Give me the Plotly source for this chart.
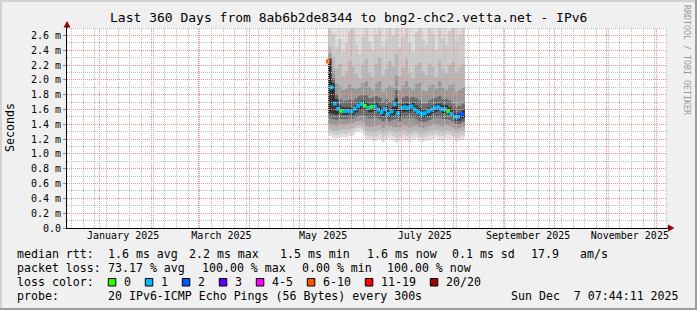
import math
import plotly.graph_objects as go
import pandas as pd

# ------------------------------------------------------------------ data ----
title_text = "Last 360 Days from 8ab6b2de8344 to bng2-chc2.vetta.net - IPv6"
x_start = "2024-12-12 07:44:11"
x_end = "2025-12-07 07:44:11"

# 2-day samples (start of each step) where data exists
sample_dates = list(pd.date_range("2025-05-18", periods=41, freq="2D").strftime("%Y-%m-%d"))

# median rtt (ms)
median_ms = [2.25, 1.90, 1.68, 1.61, 1.58, 1.58, 1.58, 1.575, 1.61, 1.65,
             1.675, 1.65, 1.62, 1.635, 1.64, 1.60, 1.565, 1.605, 1.54, 1.575,
             1.67, 1.55, 1.62, 1.63, 1.62, 1.64, 1.60, 1.565, 1.54, 1.55,
             1.575, 1.60, 1.62, 1.63, 1.605, 1.605, 1.58, 1.54, 1.50, 1.50, 1.54]
# lost pings (of 20) per sample
loss_count = [7, 1, 1, 1, 0, 1, 1, 1, 1, 1,
              1, 0, 1, 0, 1, 1, 1, 1, 1, 1,
              1, 1, 1, 1, 1, 1, 1, 1, 1, 1,
              1, 1, 1, 1, 1, 1, 0, 1, 1, 1, 2]

# smoke bands (ms), outermost -> innermost (values at 2.70 are clipped at the top)
hi1 = [2.70, 2.70, 2.70, 2.70, 2.70, 2.70, 2.70, 2.70, 2.70, 2.70,
       2.70, 2.70, 2.70, 2.70, 2.70, 2.70, 2.70, 2.70, 2.70, 2.70,
       2.70, 2.70, 2.70, 2.70, 2.70, 2.70, 2.70, 2.70, 2.70, 2.70,
       2.70, 2.70, 2.70, 2.70, 2.70, 2.70, 2.70, 2.70, 2.70, 2.70, 2.70]
lo1 = [1.24, 1.22, 1.21, 1.22, 1.23, 1.22, 1.24, 1.25, 1.30, 1.31,
       1.28, 1.20, 1.19, 1.17, 1.18, 1.20, 1.16, 1.19, 1.21, 1.18,
       1.15, 1.17, 1.20, 1.18, 1.16, 1.19, 1.21, 1.17, 1.16, 1.18,
       1.19, 1.20, 1.22, 1.19, 1.18, 1.21, 1.20, 1.19, 1.17, 1.18, 1.20]
hi2 = [2.70, 2.62, 2.45, 2.55, 2.38, 2.50, 2.66, 2.70, 2.48, 2.35,
       2.58, 2.70, 2.52, 2.40, 2.62, 2.70, 2.46, 2.55, 2.70, 2.60,
       2.70, 2.44, 2.58, 2.70, 2.50, 2.38, 2.64, 2.70, 2.55, 2.47,
       2.70, 2.62, 2.40, 2.70, 2.56, 2.48, 2.66, 2.70, 2.52, 2.60, 2.70]
lo2 = [1.29, 1.27, 1.26, 1.27, 1.28, 1.27, 1.29, 1.30, 1.34, 1.35,
       1.33, 1.25, 1.24, 1.23, 1.24, 1.26, 1.22, 1.25, 1.27, 1.24,
       1.22, 1.23, 1.26, 1.24, 1.22, 1.25, 1.27, 1.23, 1.22, 1.24,
       1.25, 1.26, 1.28, 1.25, 1.24, 1.27, 1.26, 1.24, 1.22, 1.23, 1.25]
hi3 = [2.45, 2.30, 2.15, 2.22, 2.05, 2.12, 2.25, 2.18, 2.08, 2.02,
       2.20, 2.28, 2.10, 2.04, 2.22, 2.30, 2.06, 2.14, 2.26, 2.18,
       2.35, 2.05, 2.16, 2.28, 2.10, 2.02, 2.20, 2.24, 2.12, 2.06,
       2.22, 2.18, 2.04, 2.26, 2.14, 2.08, 2.20, 2.24, 2.10, 2.16, 2.22]
lo3 = [1.34, 1.32, 1.31, 1.32, 1.33, 1.33, 1.34, 1.35, 1.38, 1.39,
       1.37, 1.31, 1.30, 1.29, 1.30, 1.32, 1.28, 1.31, 1.32, 1.30,
       1.28, 1.29, 1.32, 1.30, 1.28, 1.31, 1.32, 1.29, 1.28, 1.30,
       1.31, 1.32, 1.33, 1.31, 1.30, 1.32, 1.31, 1.30, 1.28, 1.29, 1.31]
hi4 = [2.35, 2.12, 1.95, 1.92, 1.86, 1.88, 1.94, 1.90, 1.88, 1.90,
       1.96, 1.98, 1.90, 1.86, 1.95, 1.98, 1.84, 1.90, 1.92, 1.90,
       2.05, 1.86, 1.92, 1.98, 1.90, 1.86, 1.94, 1.96, 1.86, 1.84,
       1.92, 1.94, 1.88, 1.98, 1.90, 1.86, 1.92, 1.94, 1.84, 1.86, 1.90]
lo4 = [1.40, 1.39, 1.38, 1.39, 1.40, 1.40, 1.41, 1.42, 1.44, 1.45,
       1.43, 1.38, 1.37, 1.37, 1.38, 1.39, 1.35, 1.38, 1.38, 1.37,
       1.36, 1.36, 1.39, 1.38, 1.36, 1.38, 1.39, 1.36, 1.35, 1.37,
       1.38, 1.39, 1.40, 1.38, 1.37, 1.39, 1.38, 1.36, 1.34, 1.35, 1.37]
hi5 = [2.30, 2.02, 1.80, 1.74, 1.71, 1.72, 1.73, 1.72, 1.75, 1.78,
       1.80, 1.79, 1.75, 1.76, 1.78, 1.76, 1.70, 1.74, 1.70, 1.72,
       1.86, 1.69, 1.76, 1.78, 1.76, 1.77, 1.75, 1.72, 1.68, 1.68,
       1.72, 1.75, 1.76, 1.78, 1.74, 1.74, 1.72, 1.68, 1.64, 1.65, 1.68]
lo5 = [1.48, 1.47, 1.46, 1.47, 1.47, 1.47, 1.48, 1.48, 1.50, 1.52,
       1.52, 1.49, 1.48, 1.48, 1.49, 1.47, 1.44, 1.47, 1.44, 1.46,
       1.47, 1.44, 1.48, 1.49, 1.48, 1.49, 1.47, 1.44, 1.43, 1.44,
       1.46, 1.48, 1.49, 1.49, 1.47, 1.47, 1.46, 1.43, 1.40, 1.40, 1.43]
hi6 = [2.28, 1.96, 1.74, 1.66, 1.63, 1.63, 1.63, 1.62, 1.66, 1.70,
       1.72, 1.70, 1.67, 1.68, 1.69, 1.65, 1.62, 1.65, 1.60, 1.63,
       1.75, 1.61, 1.67, 1.68, 1.67, 1.69, 1.65, 1.62, 1.59, 1.60,
       1.63, 1.65, 1.67, 1.68, 1.66, 1.66, 1.63, 1.59, 1.55, 1.55, 1.59]
lo6 = [1.55, 1.54, 1.53, 1.54, 1.53, 1.53, 1.54, 1.53, 1.56, 1.59,
       1.61, 1.59, 1.56, 1.57, 1.58, 1.55, 1.51, 1.55, 1.49, 1.52,
       1.55, 1.50, 1.56, 1.57, 1.56, 1.58, 1.55, 1.51, 1.49, 1.50,
       1.52, 1.55, 1.57, 1.58, 1.55, 1.55, 1.53, 1.49, 1.45, 1.45, 1.48]
smoke_colors = ["#dddddd", "#cacaca", "#b5b5b5", "#979797", "#6a6a6a", "#333333"]

# axes
y_max = 2.7
ytick_vals = [0.0, 0.2, 0.4, 0.6, 0.8, 1.0, 1.2, 1.4, 1.6, 1.8, 2.0, 2.2, 2.4, 2.6]
ytick_text = ["0.0", "0.2 m", "0.4 m", "0.6 m", "0.8 m", "1.0 m", "1.2 m", "1.4 m",
              "1.6 m", "1.8 m", "2.0 m", "2.2 m", "2.4 m", "2.6 m"]
xlabel_dates = ["2025-01-15", "2025-03-15", "2025-05-15", "2025-07-15", "2025-09-15", "2025-11-15"]
xlabel_text = ["January 2025", "March 2025", "May 2025", "July 2025", "September 2025", "November 2025"]

# legend
loss_labels = ["0", "1", "2", "3", "4-5", "6-10", "11-19", "20/20"]
loss_colors = ["#26ff00", "#00b8ff", "#0059ff", "#5e00ff", "#ff00ff", "#ff5500", "#ff0000", "#a00000"]
rtt_row = [("median rtt:", 16), ("1.6 ms avg", 107.3), ("2.2 ms max", 188.3), ("1.5 ms min", 279.3),
           ("1.6 ms now", 365.7), ("0.1 ms sd", 451), ("17.9", 530), ("am/s", 579)]
loss_row = [("packet loss:", 16), ("73.17 % avg", 107.3), ("100.00 % max", 201),
            ("0.00 % min", 300.7), ("100.00 % now", 386)]
probe_text = "20 IPv6-ICMP Echo Pings (56 Bytes) every 300s"
date_text = "Sun Dec  7 07:44:11 2025"

# ---------------------------------------------------------------- layout ----
W, H = 697, 310
L, R, T, B = 67, 667, 28, 228
FONT = "DejaVu Sans Mono"
DAY_MS = 86400000


def px(x):
    return (x - L) / (R - L)


def py(y):
    return (B - y) / (B - T)


def loss_class(c):
    if c <= 3:
        return c
    if c <= 5:
        return 4
    if c <= 10:
        return 5
    if c <= 19:
        return 6
    return 7


fig = go.Figure()

bands = [(lo1, hi1), (lo2, hi2), (lo3, hi3), (lo4, hi4), (lo5, hi5), (lo6, hi6)]
for (lo, hi), col in zip(bands, smoke_colors):
    fig.add_trace(go.Bar(
        x=sample_dates, base=lo, y=[h - l for h, l in zip(hi, lo)],
        width=2 * DAY_MS, offset=0,
        marker=dict(color=col, line=dict(width=0)), hoverinfo="skip"))

fig.add_trace(go.Scatter(
    x=sample_dates, y=median_ms, mode="lines",
    xperiod=2 * DAY_MS, xperiodalignment="middle",
    line=dict(color="#202020", width=1), hoverinfo="skip"))
fig.add_trace(go.Scatter(
    x=sample_dates, y=median_ms, mode="markers",
    xperiod=2 * DAY_MS, xperiodalignment="middle",
    marker=dict(symbol="square", size=4,
                color=[loss_colors[loss_class(c)] for c in loss_count],
                line=dict(width=0)), hoverinfo="skip"))

fig.update_layout(
    width=W, height=H,
    margin=dict(l=L, r=W - R, t=T, b=H - B, pad=0),
    paper_bgcolor="#f0f0f0", plot_bgcolor="#ffffff",
    showlegend=False, barmode="overlay",
    font=dict(family=FONT, size=10, color="#000000"),
    xaxis=dict(
        type="date", range=[x_start, x_end],
        showticklabels=False, ticks="", showgrid=False,
        showline=True, linecolor="#000000", linewidth=1, zeroline=False,
        fixedrange=True),
    xaxis2=dict(
        type="date", range=[x_start, x_end], overlaying="x", anchor="y", side="bottom",
        tickmode="array", tickvals=xlabel_dates, ticktext=xlabel_text,
        showgrid=False, showline=False, ticks="", zeroline=False,
        tickfont=dict(family=FONT, size=10, color="#000000")),
    yaxis=dict(
        range=[0, y_max], tickmode="array", tickvals=ytick_vals, ticktext=ytick_text,
        showgrid=False,
        showline=True, linecolor="#000000", linewidth=1, zeroline=False,
        ticks="outside", ticklen=3, tickcolor="#888888",
        tickfont=dict(family=FONT, size=10, color="#000000"),
        fixedrange=True),
)
# dummy trace to activate xaxis2
fig.add_trace(go.Scatter(x=[x_start], y=[None], xaxis="x2", yaxis="y",
                         mode="markers", hoverinfo="skip"))

ann = []
shapes = []

# ---- dotted grid drawn on top of the smoke (as rrdtool does) ----
grid_major = "#f78a8a"
grid_minor = "#bdbdbd"
t0 = pd.Timestamp(x_start)
span = (pd.Timestamp(x_end) - t0).total_seconds()


def xpix(ts):
    return L + (pd.Timestamp(ts) - t0).total_seconds() / span * (R - L)


month_cols = set()
for ts in pd.date_range("2025-01-01", x_end, freq="MS"):
    c = math.floor(xpix(ts)) + 0.5
    month_cols.add(c)
    shapes.append(dict(type="line", xref="paper", yref="paper", x0=px(c), x1=px(c), y0=0, y1=1,
                       line=dict(color=grid_major, width=1, dash="1px,1px"), layer="above"))
for ts in pd.date_range("2024-12-15", x_end, freq="7D"):
    c = math.floor(xpix(ts)) + 0.5
    if c in month_cols or c >= R:
        continue
    shapes.append(dict(type="line", xref="paper", yref="paper", x0=px(c), x1=px(c), y0=0, y1=1,
                       line=dict(color=grid_minor, width=1, dash="1px,1px"), layer="above"))
for k in range(1, 28):
    v = k / 10
    r = math.floor(B - v / y_max * (B - T)) + 0.5
    col = grid_major if k % 2 == 0 else grid_minor
    shapes.append(dict(type="line", xref="paper", yref="paper", x0=0, x1=1, y0=py(r), y1=py(r),
                       line=dict(color=col, width=1, dash="1px,1px"), layer="above"))


def text(t, x, y, size=11.6, anchor="left", color="#000000", angle=0):
    ann.append(dict(text=t.replace(" ", "\u00a0"), x=px(x), y=py(y), xref="paper", yref="paper",
                    xanchor=anchor, yanchor="middle", showarrow=False, textangle=angle,
                    font=dict(family=FONT, size=size, color=color), borderpad=0))


text(title_text, 348.5, 17, size=13, anchor="center")
text("Seconds", 10, 128, size=11.6, anchor="center", angle=-90)
text("RRDTOOL / TOBI OETIKER", 687, 60, size=8.3, anchor="center", color="#9a9a9a", angle=90)

for t, x in rtt_row:
    text(t, x, 254)
for t, x in loss_row:
    text(t, x, 268)
text("loss color:", 16, 282)
bx = 108.3
for lab, col in zip(loss_labels, loss_colors):
    shapes.append(dict(type="rect", xref="paper", yref="paper",
                       x0=px(bx), x1=px(bx + 7.5), y0=py(286), y1=py(278.5),
                       fillcolor=col, line=dict(color="#000000", width=1)))
    text(lab, bx + 15, 282)
    bx = bx + 15 + 7.0 * len(lab) + 15
text("probe:", 16, 296)
text(probe_text, 107.3, 296)
text(date_text, 680, 296, anchor="right")

# axis arrows
arrow_col = "#a00000"
shapes.append(dict(type="path", xref="paper", yref="paper",
                   path=f"M {px(63.5)},{py(27.5)} L {px(70.5)},{py(27.5)} L {px(67)},{py(21)} Z",
                   fillcolor=arrow_col, line=dict(width=0), layer="above"))
shapes.append(dict(type="line", xref="paper", yref="paper",
                   x0=px(67), x1=px(67), y0=py(28), y1=py(26),
                   line=dict(color="#000000", width=1)))
shapes.append(dict(type="path", xref="paper", yref="paper",
                   path=f"M {px(668)},{py(224.5)} L {px(668)},{py(231.5)} L {px(674.5)},{py(228)} Z",
                   fillcolor=arrow_col, line=dict(width=0), layer="above"))
shapes.append(dict(type="line", xref="paper", yref="paper",
                   x0=px(667), x1=px(669), y0=py(228), y1=py(228),
                   line=dict(color="#000000", width=1)))

# 3D frame
frame = [((0, 0, W, 2), "#d2d2d2"), ((0, 0, 2, H), "#d2d2d2"),
         ((0, H - 2, W, H), "#9e9e9e"), ((W - 2, 0, W, H), "#9e9e9e")]
for (x0, y0, x1, y1), col in frame:
    shapes.append(dict(type="rect", xref="paper", yref="paper",
                       x0=px(x0), x1=px(x1), y0=py(y1), y1=py(y0),
                       fillcolor=col, line=dict(width=0), layer="above"))

fig.update_layout(annotations=ann, shapes=shapes)
fig.write_html("out.html")
